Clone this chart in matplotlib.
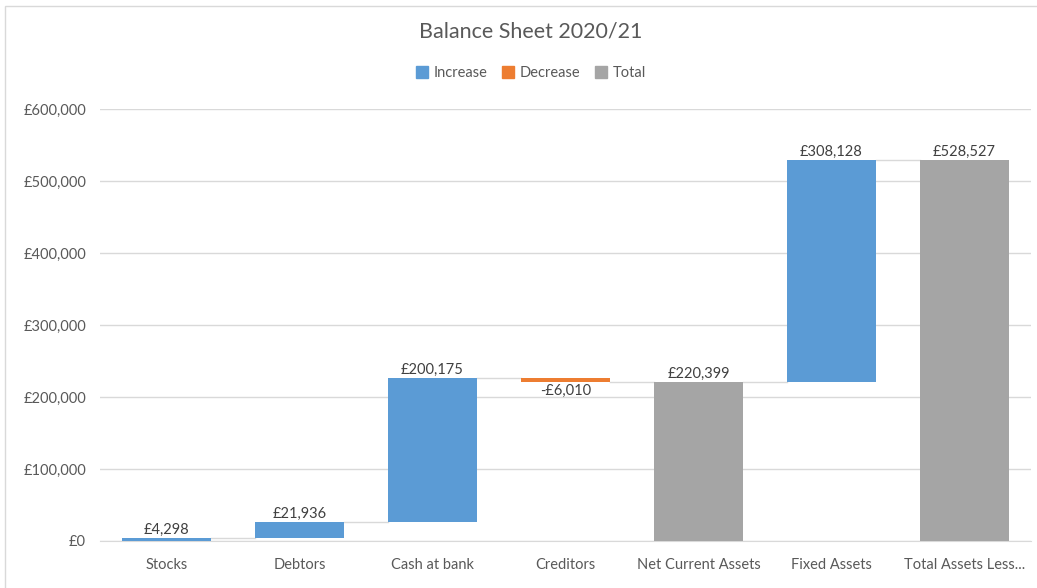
import matplotlib
matplotlib.use("Agg")
import matplotlib.pyplot as plt
from matplotlib.patches import Rectangle, Patch
from matplotlib.ticker import FuncFormatter

categories = ["Stocks", "Debtors", "Cash at bank", "Creditors",
              "Net Current Assets", "Fixed Assets", "Total Assets Less..."]
values = [4298, 21936, 200175, -6010, 220399, 308128, 528527]
is_total = [False, False, False, False, True, False, True]

BLUE, ORANGE, GRAY = "#5B9BD5", "#ED7D31", "#A5A5A5"
TXT = "#595959"
plt.rcParams['font.family'] = ['Lato', 'DejaVu Sans']

fig = plt.figure(figsize=(10.37, 5.88), dpi=100)
ax = fig.add_axes([100/1037, 1-541/588, 931/1037, 432/588])

bw = 0.67
running = 0
tops = []
for i, (v, t) in enumerate(zip(values, is_total)):
    if t:
        bottom, height, col = 0, v, GRAY
        running = v
        end = v
    elif v >= 0:
        bottom, height, col = running, v, BLUE
        running += v
        end = running
    else:
        bottom, height, col = running + v, -v, ORANGE
        running += v
        end = running
    ax.bar(i, height, bottom=bottom, width=bw, color=col, zorder=3)
    lab = ("-£{:,}".format(-v) if v < 0 else "£{:,}".format(v))
    if v < 0:
        ax.text(i, bottom - 2500, lab, ha="center", va="top", fontsize=10.5, color="#404040", zorder=4)
    else:
        ax.text(i, bottom + height + 1500, lab, ha="center", va="bottom", fontsize=10.5, color="#404040", zorder=4)
    tops.append(end)

# connector lines
for i in range(len(values) - 1):
    ax.plot([i + bw/2, i + 1 - bw/2], [tops[i], tops[i]], color="#D9D9D9", lw=1, zorder=2)

ax.set_xlim(-0.5, len(values) - 0.5)
ax.set_ylim(0, 600000)
ax.set_yticks(range(0, 600001, 100000))
ax.yaxis.set_major_formatter(FuncFormatter(lambda x, p: "£{:,}".format(int(x))))
ax.set_xticks(range(len(categories)))
ax.set_xticklabels(categories)
ax.tick_params(axis="both", length=0, labelsize=10.5, labelcolor=TXT)
ax.tick_params(axis="x", pad=12)
ax.tick_params(axis="y", pad=10)
ax.grid(axis="y", color="#D9D9D9", lw=1, zorder=0)
for s in ["top", "right", "left"]:
    ax.spines[s].set_visible(False)
ax.spines["bottom"].set_color("#D9D9D9")

cx = 531/1037
fig.text(cx, 1-31/588, "Balance Sheet 2020/21", ha="center", va="center", fontsize=15.5, color=TXT)
handles = [Patch(color=BLUE, label="Increase"), Patch(color=ORANGE, label="Decrease"),
           Patch(color=GRAY, label="Total")]
fig.legend(handles=handles, loc="center", bbox_to_anchor=(cx, 1-73/588), ncol=3, frameon=False,
           fontsize=10.5, handlelength=0.8, handleheight=0.8, handletextpad=0.4, columnspacing=1.0,
           labelcolor=TXT)

fig.patches.append(Rectangle((5/1037, -0.01), 1.1, 1-6/588+0.01, transform=fig.transFigure,
                             fill=False, edgecolor="#D9D9D9", lw=1))

fig.savefig("out.png", dpi=100)
